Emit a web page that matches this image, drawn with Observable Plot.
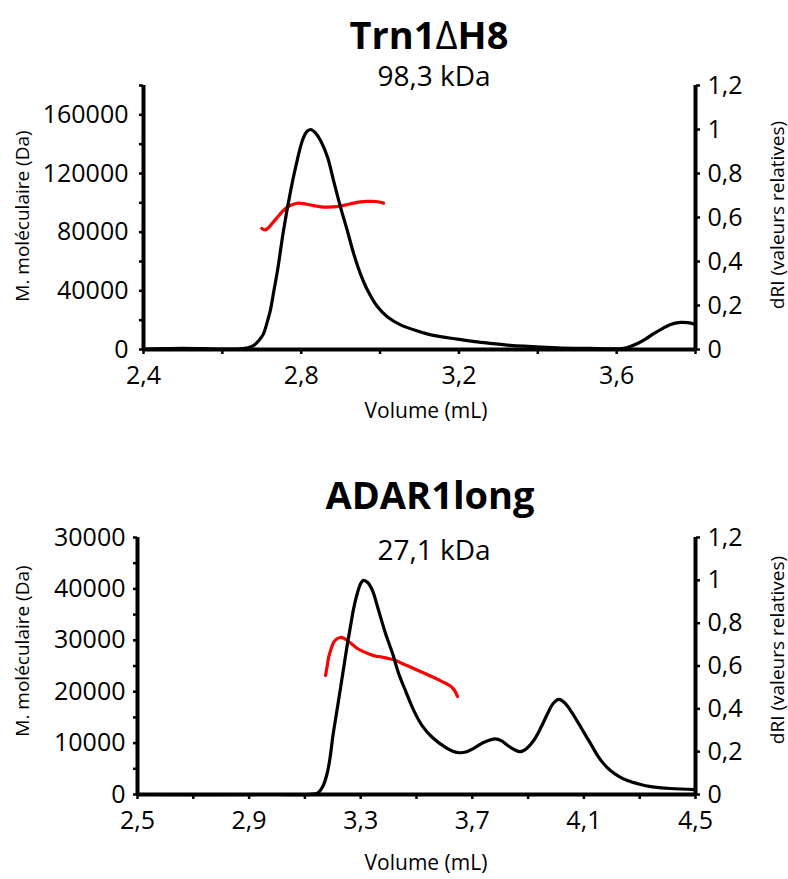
<!DOCTYPE html>
<html>
<head>
<meta charset="utf-8">
<script src="https://cdn.jsdelivr.net/npm/d3@7"></script>
<script src="https://cdn.jsdelivr.net/npm/@observablehq/plot@0.6"></script>
<style>
  body { margin: 0; background: #fff; font-family: "Open Sans", sans-serif; }
  #wrap { position: relative; width: 788px; height: 879px; overflow: hidden; background: #fff; }
  .t { position: absolute; transform: translate(-50%, -50%); white-space: nowrap; line-height: 1; color: #000; }
  .r { transform: translate(-50%, -50%) rotate(-90deg); }
  .title { font-weight: 700; font-size: 38px; }
  .sub { font-size: 28px; }
  .ax { font-size: 19px; }
  .vol { font-size: 21px; }
</style>
</head>
<body>
<div id="wrap">
  <div id="p1" style="position:absolute;left:0;top:0"></div>
  <div id="p2" style="position:absolute;left:0;top:440px"></div>

  <div class="t title" style="left:429px;top:34px">Trn1<span style="font-weight:400">Δ</span>H8</div>
  <div class="t sub" style="left:434px;top:75px">98,3 kDa</div>
  <div class="t ax r" style="left:22px;top:216px">M. moléculaire (Da)</div>
  <div class="t ax r" style="left:777px;top:215px">dRI (valeurs relatives)</div>
  <div class="t vol" style="left:426px;top:410px">Volume (mL)</div>

  <div class="t title" style="left:430px;top:494px">ADAR1long</div>
  <div class="t sub" style="left:434px;top:549px">27,1 kDa</div>
  <div class="t ax r" style="left:22px;top:651px">M. moléculaire (Da)</div>
  <div class="t ax r" style="left:777px;top:650px">dRI (valeurs relatives)</div>
  <div class="t vol" style="left:426px;top:862px">Volume (mL)</div>
</div>
<script>
// ---------- Trn1ΔH8 ----------
const trnDriVol = [2.40,2.45,2.50,2.55,2.60,2.646,2.665,2.679,2.692,2.704,2.713,2.722,2.731,2.74,2.755,2.773,2.786,2.803,2.814,2.824,2.836,2.849,2.867,2.882,2.90,2.917,2.933,2.95,2.968,2.993,3.019,3.052,3.095,3.135,3.196,3.24,3.28,3.33,3.364,3.45,3.53,3.60,3.625,3.653,3.674,3.694,3.715,3.737,3.762,3.78,3.80];
const trnDri    = [0.002,0.004,0.005,0.004,0.002,0.003,0.008,0.018,0.04,0.07,0.12,0.18,0.27,0.36,0.54,0.72,0.83,0.95,0.99,1.0,0.985,0.95,0.873,0.768,0.645,0.54,0.436,0.345,0.27,0.195,0.148,0.112,0.084,0.064,0.047,0.036,0.028,0.019,0.015,0.008,0.005,0.003,0.008,0.027,0.048,0.072,0.094,0.114,0.123,0.122,0.114];
const trnMassVol = [2.700,2.708,2.716,2.728,2.74,2.752,2.765,2.778,2.79,2.805,2.824,2.84,2.857,2.878,2.90,2.917,2.933,2.95,2.968,2.99,3.009];
const trnMass    = [82500,81500,82800,86500,90300,94000,97100,98800,99700,99500,98500,97700,97100,97200,97800,98800,99800,100600,101000,100900,99800];

const trnXTicks  = [2.4,2.6,2.8,3.0,3.2,3.4,3.6,3.8];
const trnXLabels = ["2,4","","2,8","","3,2","","3,6",""];
const trnYTicks  = [0,20000,40000,60000,80000,100000,120000,140000,160000,180000];
const trnYLabels = ["0","","40000","","80000","","120000","","160000",""];
const trnRTicks  = [0,0.2,0.4,0.6,0.8,1,1.2];
const trnRLabels = ["0","0,2","0,4","0,6","0,8","1","1,2"];

// ---------- ADAR1long ----------
const adarDriVol = [2.5,3.0,3.12,3.145,3.165,3.18,3.19,3.2,3.214,3.228,3.24,3.252,3.264,3.275,3.288,3.30,3.31,3.325,3.342,3.364,3.389,3.414,3.436,3.46,3.49,3.52,3.557,3.604,3.63,3.655,3.68,3.705,3.74,3.783,3.805,3.826,3.85,3.873,3.895,3.92,3.945,3.97,3.99,4.01,4.03,4.052,4.075,4.10,4.125,4.149,4.17,4.195,4.225,4.256,4.30,4.34,4.41,4.50];
const adarDri    = [0,0,0.001,0.006,0.04,0.10,0.17,0.27,0.385,0.50,0.60,0.70,0.79,0.87,0.94,0.985,1.0,0.99,0.953,0.86,0.752,0.659,0.565,0.486,0.393,0.322,0.266,0.22,0.202,0.195,0.2,0.215,0.243,0.26,0.25,0.23,0.21,0.20,0.215,0.252,0.31,0.378,0.425,0.444,0.43,0.393,0.345,0.29,0.235,0.182,0.145,0.112,0.085,0.065,0.048,0.037,0.028,0.023];
const adarMassVol = [3.174,3.18,3.185,3.195,3.203,3.215,3.228,3.24,3.252,3.27,3.288,3.31,3.335,3.355,3.371,3.395,3.425,3.45,3.478,3.52,3.55,3.58,3.604,3.62,3.633,3.641,3.647];
const adarMass    = [23160,25000,26660,28500,29580,30300,30550,30400,29970,29200,28410,27800,27240,26900,26800,26500,26080,25450,24800,23800,23050,22300,21650,21150,20500,19800,19070];

const adarXTicks  = [2.5,2.7,2.9,3.1,3.3,3.5,3.7,3.9,4.1,4.3,4.5];
const adarXLabels = ["2,5","","2,9","","3,3","","3,7","","4,1","","4,5"];
const adarYTicks  = [0,5000,10000,15000,20000,25000,30000,35000,40000,45000,50000];
const adarYLabels = ["0","","10000","","20000","","30000","","40000","","30000"];
const adarRTicks  = [0,0.2,0.4,0.6,0.8,1,1.2];
const adarRLabels = ["0","0,2","0,4","0,6","0,8","1","1,2"];

const FONT = '"Open Sans", sans-serif';

function lookup(ticks, labels) {
  return d => {
    const i = ticks.findIndex(t => Math.abs(t - d) < 1e-6);
    return i >= 0 ? labels[i] : "";
  };
}

function makeChart(o) {
  const k = o.yMax / o.rMax;
  const black = o.driVol.map((v, i) => ({v, r: o.dri[i]}));
  const red = o.massVol.map((v, i) => ({v, m: o.mass[i]}));
  const rTicksScaled = o.rTicks.map(t => t * k);
  return Plot.plot({
    width: 788,
    height: o.height,
    marginLeft: o.ml, marginRight: o.mr, marginTop: o.mt, marginBottom: o.mb,
    style: {fontFamily: FONT, fontSize: "25px", color: "#000", background: "#fff", overflow: "visible"},
    x: {domain: o.xDomain},
    y: {domain: [0, o.yMax]},
    marks: [
      Plot.line(red, {x: "v", y: "m", stroke: "#ff0000", strokeWidth: 3.2, curve: "catmull-rom"}),
      Plot.line(black, {x: "v", y: d => d.r * k, stroke: "#000", strokeWidth: 3.2, curve: "catmull-rom"}),
      Plot.ruleX([o.xDomain[0]], {stroke: "#000", strokeWidth: 4}),
      Plot.ruleX([o.xDomain[1]], {stroke: "#000", strokeWidth: 4}),
      Plot.ruleY([0], {stroke: "#000", strokeWidth: 4}),
      Plot.axisX({ticks: o.xTicks, tickFormat: lookup(o.xTicks, o.xLabels), tickSize: 5, tickPadding: 12,
                  strokeWidth: 2.5, fontSize: 25, fontFamily: FONT, label: null}),
      Plot.axisY({anchor: "left", ticks: o.yTicks, tickFormat: lookup(o.yTicks, o.yLabels), tickSize: 4,
                  tickPadding: o.lpad, strokeWidth: 2.5, fontSize: 25, fontFamily: FONT, label: null}),
      Plot.axisY({anchor: "right", ticks: rTicksScaled, tickFormat: lookup(rTicksScaled, o.rLabels), tickSize: 4,
                  tickPadding: 8, strokeWidth: 2.5, fontSize: 25, fontFamily: FONT, label: null})
    ]
  });
}

document.getElementById("p1").appendChild(makeChart({
  height: 440, ml: 143, mr: 93, mt: 85, mb: 91,
  xDomain: [2.4, 3.8], yMax: 180000, rMax: 1.2,
  driVol: trnDriVol, dri: trnDri, massVol: trnMassVol, mass: trnMass,
  xTicks: trnXTicks, xLabels: trnXLabels, yTicks: trnYTicks, yLabels: trnYLabels,
  rTicks: trnRTicks, rLabels: trnRLabels, lpad: 11
}));

document.getElementById("p2").appendChild(makeChart({
  height: 439, ml: 137, mr: 93, mt: 97, mb: 85,
  xDomain: [2.5, 4.5], yMax: 50000, rMax: 1.2,
  driVol: adarDriVol, dri: adarDri, massVol: adarMassVol, mass: adarMass,
  xTicks: adarXTicks, xLabels: adarXLabels, yTicks: adarYTicks, yLabels: adarYLabels,
  rTicks: adarRTicks, rLabels: adarRLabels, lpad: 8
}));
</script>
</body>
</html>
